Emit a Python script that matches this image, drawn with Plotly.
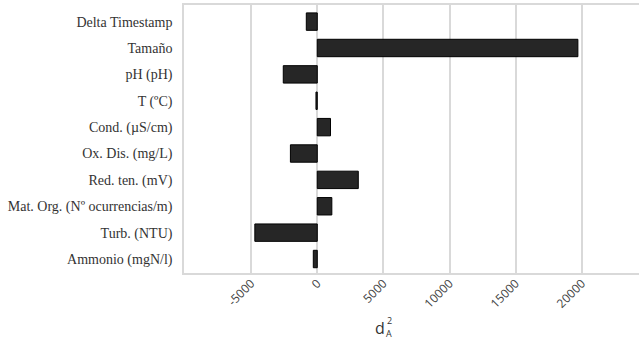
import plotly.graph_objects as go

categories = [
    "Delta Timestamp",
    "Tamaño",
    "pH (pH)",
    "T (ºC)",
    "Cond. (µS/cm)",
    "Ox. Dis. (mg/L)",
    "Red. ten. (mV)",
    "Mat. Org. (Nº ocurrencias/m)",
    "Turb. (NTU)",
    "Ammonio (mgN/l)",
]
values = [-830, 19700, -2570, -100, 1000, -2030, 3100, 1100, -4720, -300]
tick_values = [-5000, 0, 5000, 10000, 15000, 20000]
tick_labels = ["-5000", "0", "5000", "10000", "15000", "20000"]

W, H = 639, 340
ML, MR, MT, MB = 184, 0, 5, 67

fig = go.Figure()
fig.add_trace(go.Bar(
    y=categories,
    x=values,
    orientation="h",
    width=0.66,
    marker=dict(color="#262626", line=dict(color="#000000", width=1)),
))

grid = "#d9d9d9"


def px_to_paper(px, py):
    pw = W - ML - MR
    ph = H - MT - MB
    return (px - ML) / pw, (H - MB - py) / ph


title_parts = [("d", 380, 328, 16), ("2", 389, 320, 9), ("A", 389, 333, 9)]
annotations = []
for txt, px, py, size in title_parts:
    xp, yp = px_to_paper(px, py)
    annotations.append(dict(
        text=txt, x=xp, y=yp, xref="paper", yref="paper", showarrow=False,
        xanchor="center", yanchor="middle",
        font=dict(family="Open Sans", size=size, color="#333333"),
    ))

fig.update_layout(
    width=W,
    height=H,
    margin=dict(l=ML, r=MR, t=MT, b=MB, autoexpand=False),
    plot_bgcolor="white",
    paper_bgcolor="white",
    showlegend=False,
    xaxis=dict(
        range=[-10075, 24320],
        tickmode="array",
        tickvals=tick_values,
        ticktext=tick_labels,
        automargin=False,
        showgrid=True,
        gridcolor=grid,
        gridwidth=1.5,
        zeroline=True,
        zerolinecolor=grid,
        zerolinewidth=1.5,
        showline=True,
        linecolor=grid,
        linewidth=1.5,
        mirror=True,
        tickangle=-45,
        ticks="",
        ticklabelstandoff=-3,
        tickfont=dict(family="Open Sans", size=12, color="#444444"),
    ),
    yaxis=dict(
        categoryorder="array",
        categoryarray=categories,
        range=[9.53, -0.63],
        automargin=False,
        showgrid=False,
        zeroline=False,
        showline=True,
        linecolor=grid,
        linewidth=1.5,
        ticks="",
        ticklabelstandoff=7,
        tickfont=dict(family="Liberation Serif", size=14, color="#333333"),
    ),
    annotations=annotations,
)

fig.write_html(
    "out.html",
    config={"displayModeBar": False},
    post_script="document.body.style.margin='0';document.body.style.padding='0';",
)
